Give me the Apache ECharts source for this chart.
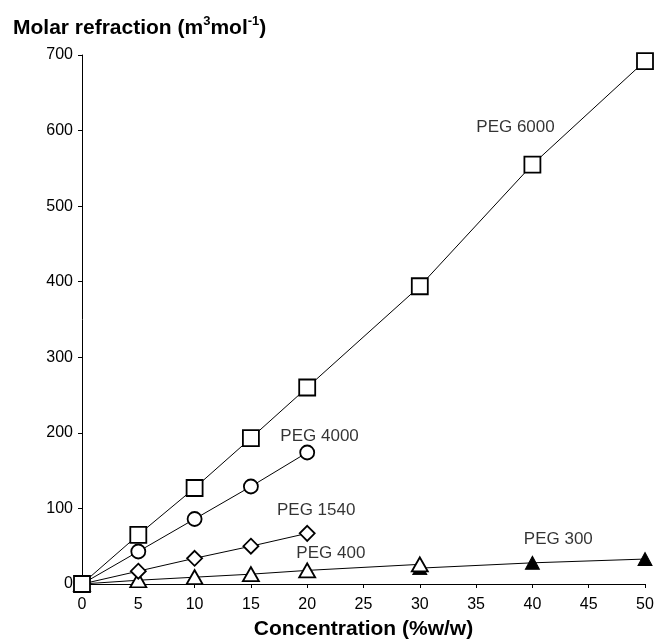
<!DOCTYPE html>
<html>
<head>
<meta charset="utf-8">
<script src="https://cdn.jsdelivr.net/npm/echarts@6/dist/echarts.min.js"></script>
<style>html,body{margin:0;padding:0;background:#fff}#c{width:659px;height:639px}</style>
</head>
<body>
<div id="c"></div>
<script>
// Data
var peg6000X = [0, 5, 10, 15, 20, 30, 40, 50];
var peg6000Y = [0, 65, 127, 193, 260, 394, 555, 692];
var peg4000X = [0, 5, 10, 15, 20];
var peg4000Y = [0, 43, 86, 129, 174];
var peg1540X = [0, 5, 10, 15, 20];
var peg1540Y = [0, 17, 34, 50, 67];
var peg400X = [0, 5, 10, 15, 20, 30];
var peg400Y = [0, 5, 9, 13, 18, 26];
var peg300X = [30, 40, 50];
var peg300Y = [21, 28, 33];
var xTicks = {min: 0, max: 50, interval: 5};
var yTicks = {min: 0, max: 700, interval: 100};
// series label anchors, in data coordinates
var labelNames = ['PEG 6000', 'PEG 4000', 'PEG 1540', 'PEG 400', 'PEG 300'];
var labelX = [38.5, 21.1, 20.8, 22.1, 42.3];
var labelY = [604, 195, 98, 41, 59];

function pairs(xs, ys) { return xs.map(function (x, i) { return [x, ys[i]]; }); }

var font = 'Liberation Sans, Arial, sans-serif';
var openStyle = {color: '#fff', borderColor: '#000', borderWidth: 1.8};
var lineStyle = {color: '#000', width: 1};

function lineSeries(name, data, symbol, size, itemStyle, z) {
  return {
    name: name, type: 'line', data: data, symbol: symbol, symbolSize: size,
    showAllSymbol: true, lineStyle: lineStyle, itemStyle: itemStyle,
    z: z, animation: false
  };
}

var chart = echarts.init(document.getElementById('c'), null, {renderer: 'canvas'});
chart.setOption({
  backgroundColor: '#fff',
  animation: false,
  grid: {left: 82, right: 14, top: 55, bottom: 55, containLabel: false, outerBoundsMode: 'none'},
  xAxis: {
    type: 'value', min: xTicks.min, max: xTicks.max, interval: xTicks.interval,
    name: 'Concentration (%w/w)', nameLocation: 'middle', nameGap: 35,
    nameTextStyle: {fontFamily: font, fontSize: 21, fontWeight: 'bold', color: '#000'},
    axisLine: {lineStyle: {color: '#000', width: 1}},
    axisTick: {show: true, length: 4, lineStyle: {color: '#000'}},
    axisLabel: {fontFamily: font, fontSize: 16, color: '#000', margin: 13},
    splitLine: {show: false}
  },
  yAxis: {
    type: 'value', min: yTicks.min, max: yTicks.max, interval: yTicks.interval,
    name: '{b|Molar refraction (m}{s|3}{b|mol}{s|-1}{b|)}',
    nameLocation: 'end', nameGap: 16,
    nameTextStyle: {
      align: 'left', padding: [0, 0, 0, -69],
      rich: {
        b: {fontFamily: font, fontSize: 21, fontWeight: 'bold', color: '#000', lineHeight: 24, verticalAlign: 'bottom'},
        s: {fontFamily: font, fontSize: 13, fontWeight: 'bold', color: '#000', lineHeight: 24, verticalAlign: 'top'}
      }
    },
    axisLine: {show: true, lineStyle: {color: '#000', width: 1}},
    axisTick: {show: true, length: 4, lineStyle: {color: '#000'}},
    axisLabel: {fontFamily: font, fontSize: 16, color: '#000', margin: 9},
    splitLine: {show: false}
  },
  series: [
    lineSeries('PEG 300', pairs(peg300X, peg300Y), 'triangle', [14, 13], {color: '#000', borderColor: '#000', borderWidth: 1}, 2),
    lineSeries('PEG 400', pairs(peg400X, peg400Y), 'triangle', [16, 14], openStyle, 3),
    lineSeries('PEG 1540', pairs(peg1540X, peg1540Y), 'diamond', [15, 15], openStyle, 4),
    lineSeries('PEG 4000', pairs(peg4000X, peg4000Y), 'circle', 14, openStyle, 5),
    lineSeries('PEG 6000', pairs(peg6000X, peg6000Y), 'rect', 16, openStyle, 6),
    {
      name: 'labels', type: 'scatter', symbolSize: 0, z: 7, silent: true,
      itemStyle: {color: '#000'},
      data: labelNames.map(function (n, i) { return {name: n, value: [labelX[i], labelY[i]]}; }),
      label: {show: true, position: 'inside', formatter: '{b}', fontFamily: font, fontSize: 17,
              color: '#000', textBorderWidth: 0, textShadowBlur: 0}
    }
  ]
});
</script>
</body>
</html>
